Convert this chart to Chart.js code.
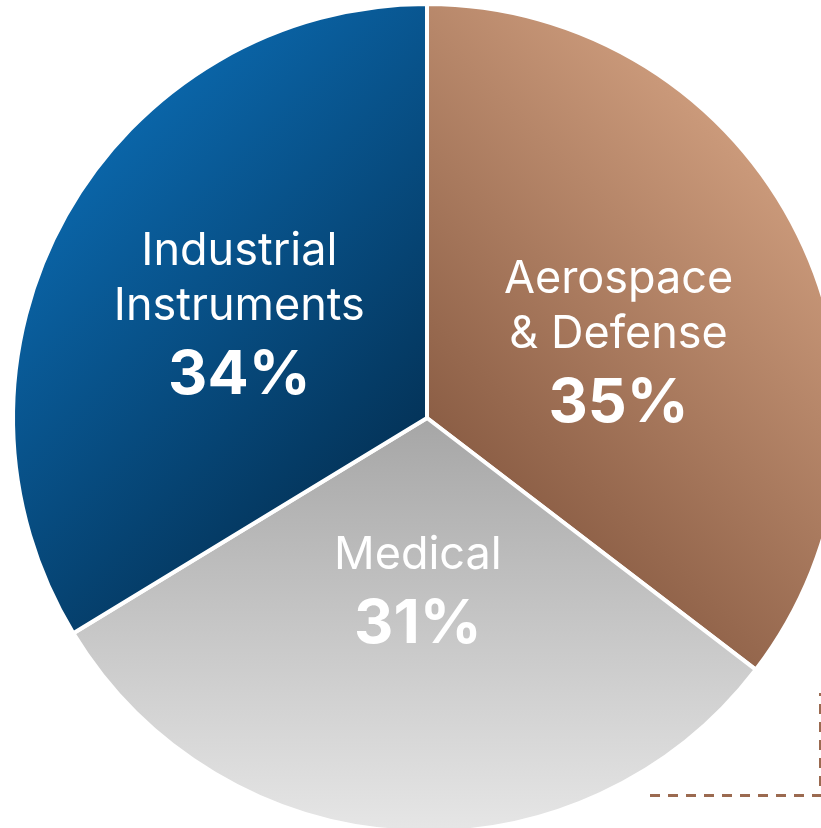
<!DOCTYPE html>
<html>
<head>
<meta charset="utf-8">
<script src="https://cdn.jsdelivr.net/npm/chart.js@4"></script>
<style>
  html, body { margin: 0; padding: 0; background: #fff; overflow: hidden; }
  #wrap { position: absolute; left: 0; top: 0; width: 854px; height: 836px; }
</style>
</head>
<body>
<div id="wrap"><canvas id="pie" width="854" height="836"></canvas></div>
<script>
// segment data (slice sizes as measured, labels as printed)
const categories = [["Aerospace", "& Defense"], ["Medical"], ["Industrial", "Instruments"]];
const shares = [35.4, 30.9, 33.7];
const shareLabels = ["35%", "31%", "34%"];

// look
const flatColors = ["#b07f62", "#c4c4c4", "#07508a"];
const labelRadius = [0.5, 0.415, 0.52];
const labelNudge = [[6, 15], [0, 0], [0, 0]];
const pieRadius = 414;

const fillFor = (c) => {
  const { ctx, chartArea } = c.chart;
  const i = c.dataIndex;
  if (!chartArea) return flatColors[i];
  const cx = (chartArea.left + chartArea.right) / 2;
  const cy = (chartArea.top + chartArea.bottom) / 2;
  const r = pieRadius;
  let g;
  if (i === 0) {
    g = ctx.createLinearGradient(cx - 0.1 * r, cy + 0.1 * r, cx + 0.9 * r, cy - 0.9 * r);
    g.addColorStop(0, "#83563e");
    g.addColorStop(1, "#dcaa89");
  } else if (i === 1) {
    g = ctx.createLinearGradient(cx, cy, cx, cy + r);
    g.addColorStop(0, "#a6a6a6");
    g.addColorStop(1, "#e6e6e6");
  } else {
    g = ctx.createLinearGradient(cx - 0.9 * r, cy - 0.9 * r, cx, cy);
    g.addColorStop(0, "#0c72bd");
    g.addColorStop(1, "#04345a");
  }
  return g;
};

// white labels inside slices
const sliceLabels = {
  id: "sliceLabels",
  afterDatasetsDraw(chart) {
    const ctx = chart.ctx;
    const arcs = chart.getDatasetMeta(0).data;
    ctx.save();
    ctx.fillStyle = "#ffffff";
    ctx.textAlign = "center";
    ctx.textBaseline = "alphabetic";
    arcs.forEach((arc, i) => {
      const mid = (arc.startAngle + arc.endAngle) / 2;
      const d = arc.outerRadius * labelRadius[i];
      const x = arc.x + Math.cos(mid) * d + labelNudge[i][0];
      const cy = arc.y + Math.sin(mid) * d + labelNudge[i][1];
      const lines = categories[i];
      const lineGap = 55, pctGap = 74, cap = 33;
      const h = cap + (lines.length - 1) * lineGap + pctGap;
      let y = cy - h / 2 + cap;
      ctx.font = "45px Inter";
      lines.forEach((t, k) => {
        ctx.fillText(t, x, y);
        if (k < lines.length - 1) y += lineGap;
      });
      y += pctGap;
      ctx.font = "bold 61px Inter";
      ctx.fillText(shareLabels[i], x, y);
    });
    ctx.restore();
  }
};

// dashed callout bracket at bottom right
const bracket = {
  id: "bracket",
  afterDraw(chart) {
    const ctx = chart.ctx;
    ctx.save();
    ctx.strokeStyle = "#9b6a50";
    ctx.lineWidth = 3;
    ctx.setLineDash([10, 8]);
    ctx.beginPath();
    ctx.moveTo(650, 795.5);
    ctx.lineTo(820.5, 795.5);
    ctx.lineTo(820.5, 693);
    ctx.stroke();
    ctx.restore();
  }
};

new Chart(document.getElementById("pie"), {
  type: "pie",
  data: {
    labels: categories.map((l) => l.join(" ")),
    datasets: [{
      data: shares,
      backgroundColor: fillFor,
      borderColor: "#ffffff",
      borderWidth: 4,
      hoverOffset: 0
    }]
  },
  options: {
    responsive: false,
    animation: false,
    radius: pieRadius,
    layout: { padding: 4 },
    plugins: {
      legend: { display: false },
      tooltip: { enabled: false }
    }
  },
  plugins: [sliceLabels, bracket]
});
</script>
</body>
</html>
